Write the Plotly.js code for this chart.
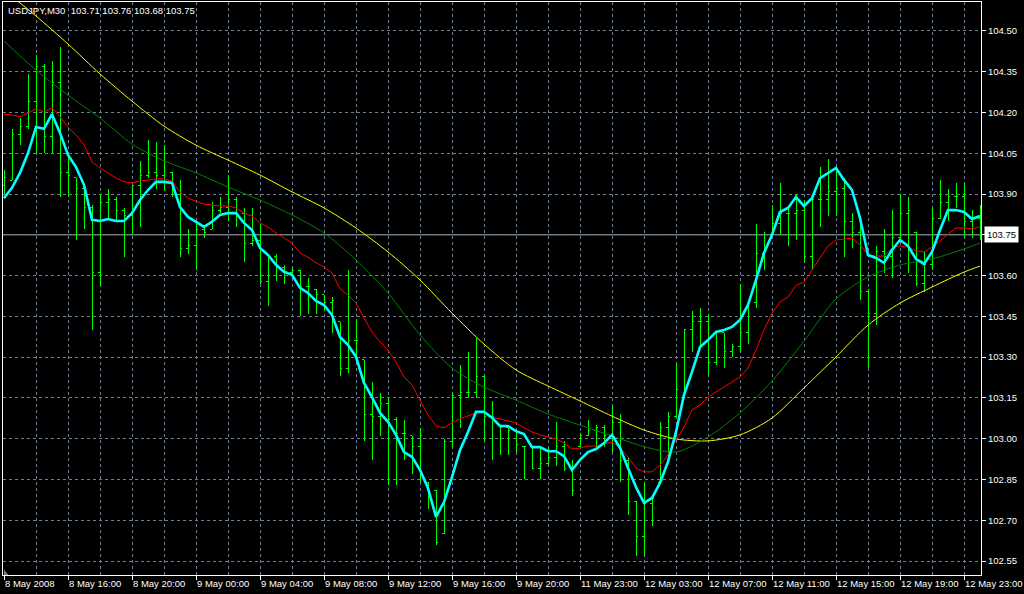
<!DOCTYPE html>
<html>
<head>
<meta charset="utf-8">
<script src="https://cdn.plot.ly/plotly-3.0.1.min.js"></script>
<style>
  html, body { margin: 0; padding: 0; background: #000; }
  #chart { width: 1024px; height: 594px; }
  #chart .ohlclayer path { shape-rendering: crispEdges; }
</style>
</head>
<body>
<div id="chart"></div>
<script>
// ---- data (USDJPY, M30) ----
const symbolTitle = "USDJPY,M30";
const headerQuote = [103.71, 103.76, 103.68, 103.75];

const timeLabels = ["8 May 2008","8 May 16:00","8 May 20:00","9 May 00:00","9 May 04:00",
  "9 May 08:00","9 May 12:00","9 May 16:00","9 May 20:00","11 May 23:00","12 May 03:00",
  "12 May 07:00","12 May 11:00","12 May 15:00","12 May 19:00","12 May 23:00"];

const priceTicks = [102.55,102.70,102.85,103.00,103.15,103.30,103.45,103.60,103.75,103.90,104.05,104.20,104.35,104.50];

const openPrices = [103.93,103.95,104.12,104.15,104.24,104.37,104.11,104.31,103.98,103.96,
103.92,103.85,103.61,103.87,103.88,103.84,103.82,103.93,103.97,103.98,
103.97,103.98,103.90,103.70,103.71,103.77,103.77,103.84,103.85,103.88,
103.83,103.72,103.73,103.58,103.67,103.63,103.61,103.62,103.56,103.55,
103.53,103.50,103.43,103.26,103.36,103.29,103.09,103.08,103.13,103.07,
103.02,103.01,102.97,102.84,102.81,102.65,102.99,103.16,103.17,103.17,
103.23,103.08,103.05,103.04,103.03,102.97,102.97,102.89,102.91,102.93,
102.97,102.89,102.97,103.01,103.03,103.04,103.01,103.06,102.92,102.77,
102.64,102.76,102.84,103.04,103.08,103.15,103.40,103.43,103.43,103.28,
103.39,103.32,103.34,103.39,103.50,103.68,103.75,103.79,103.83,103.83,
103.84,103.67,103.88,103.88,103.91,103.92,103.80,103.76,103.54,103.46,
103.69,103.67,103.74,103.83,103.76,103.57,103.64,103.81,103.87,103.89,
103.89,103.80,103.81];

const highPrices = [103.99,104.14,104.18,104.34,104.41,104.38,104.39,104.44,104.04,103.96,
103.93,103.86,103.90,103.92,103.89,103.85,103.93,104.02,104.10,104.09,
104.08,103.98,103.95,103.77,103.79,103.78,103.87,103.89,103.97,103.89,
103.85,103.85,103.79,103.68,103.68,103.64,103.63,103.62,103.59,103.55,
103.53,103.52,103.43,103.62,103.44,103.29,103.21,103.17,103.15,103.08,
103.07,103.01,103.04,102.84,102.81,103.00,103.17,103.27,103.32,103.37,
103.23,103.14,103.05,103.04,103.03,102.97,102.97,102.97,102.97,103.06,
102.99,102.92,103.02,103.07,103.05,103.05,103.12,103.09,102.93,102.77,
102.84,102.79,103.06,103.10,103.28,103.40,103.47,103.48,103.46,103.39,
103.39,103.35,103.57,103.51,103.79,103.76,103.86,103.94,103.85,103.90,
103.88,103.89,104.00,104.03,104.00,103.96,103.83,103.82,103.55,103.71,
103.77,103.84,103.90,103.89,103.76,103.69,103.85,103.95,103.92,103.94,
103.94,103.84,103.86];

const lowPrices = [103.90,103.95,104.08,104.14,104.05,104.05,104.05,103.89,103.89,103.73,
103.77,103.40,103.56,103.81,103.80,103.67,103.75,103.78,103.96,103.92,
103.91,103.89,103.67,103.68,103.62,103.74,103.77,103.83,103.80,103.78,
103.65,103.71,103.57,103.49,103.58,103.57,103.61,103.45,103.46,103.46,
103.47,103.39,103.23,103.24,103.29,102.99,102.92,103.01,102.83,102.83,
102.92,102.87,102.84,102.74,102.61,102.65,102.97,103.04,103.15,103.15,
102.99,102.92,102.94,102.94,102.95,102.85,102.89,102.85,102.90,102.90,
102.88,102.79,102.97,103.01,102.97,102.97,102.95,102.84,102.72,102.57,
102.57,102.68,102.84,102.93,103.08,103.15,103.32,103.33,103.23,103.27,
103.26,103.30,103.32,103.35,103.48,103.62,103.75,103.75,103.71,103.73,
103.65,103.62,103.78,103.82,103.82,103.67,103.70,103.51,103.26,103.42,
103.61,103.59,103.73,103.61,103.56,103.54,103.62,103.81,103.80,103.85,
103.74,103.74,103.73];

const closePrices = [103.96,104.12,104.15,104.24,104.37,104.11,104.31,103.98,103.97,103.92,
103.85,103.61,103.87,103.88,103.84,103.82,103.93,103.97,103.98,103.97,
104.02,103.90,103.70,103.71,103.77,103.76,103.84,103.85,103.88,103.83,
103.72,103.73,103.58,103.67,103.63,103.61,103.62,103.56,103.56,103.53,
103.50,103.51,103.26,103.36,103.36,103.09,103.08,103.13,103.07,103.02,
103.02,102.97,103.01,102.81,102.62,102.99,103.16,103.17,103.17,103.23,
103.08,103.08,103.04,103.03,102.98,102.97,102.89,102.91,102.93,102.97,
102.89,102.81,103.01,103.03,103.04,103.01,103.06,102.92,102.77,102.64,
102.76,102.78,103.04,103.08,103.18,103.40,103.43,103.43,103.28,103.39,
103.32,103.34,103.39,103.50,103.68,103.69,103.79,103.83,103.83,103.84,
103.67,103.88,103.88,103.91,103.92,103.80,103.76,103.54,103.46,103.69,
103.67,103.74,103.83,103.84,103.57,103.64,103.81,103.87,103.89,103.89,
103.80,103.81,103.75];

// cyan fast moving average (one value per bar)
const fastMA = [103.885,103.923,103.978,104.051,104.147,104.140,104.194,104.125,104.044,103.999,
103.934,103.805,103.801,103.808,103.801,103.801,103.830,103.878,103.915,103.945,
103.945,103.941,103.852,103.816,103.798,103.779,103.798,103.823,103.830,103.830,
103.794,103.768,103.702,103.676,103.640,103.614,103.603,103.555,103.536,103.507,
103.492,103.455,103.374,103.345,103.301,103.205,103.153,103.095,103.062,103.014,
102.951,102.933,102.885,102.818,102.712,102.767,102.859,102.958,103.025,103.099,
103.099,103.077,103.047,103.047,103.028,103.017,102.969,102.969,102.954,102.954,
102.936,102.885,102.922,102.951,102.962,102.984,103.014,102.966,102.892,102.822,
102.764,102.782,102.837,102.915,103.025,103.161,103.246,103.337,103.363,103.393,
103.400,103.411,103.437,103.492,103.584,103.683,103.750,103.834,103.849,103.889,
103.856,103.885,103.959,103.978,103.996,103.952,103.915,103.812,103.676,103.665,
103.647,103.694,103.731,103.709,103.661,103.643,103.687,103.768,103.841,103.841,
103.834,103.808,103.819];

// red moving average (one value per bar)
const redMA = [104.194,104.191,104.184,104.198,104.213,104.202,104.217,104.184,104.147,104.118,
104.081,104.018,103.996,103.978,103.959,103.945,103.941,103.948,103.952,103.956,
103.956,103.948,103.908,103.885,103.874,103.863,103.860,103.856,103.856,103.849,
103.830,103.819,103.794,103.779,103.757,103.738,103.720,103.683,103.668,103.647,
103.632,103.610,103.551,103.529,103.499,103.444,103.393,103.356,103.326,103.282,
103.227,103.198,103.142,103.087,103.047,103.040,103.058,103.073,103.084,103.095,
103.095,103.080,103.073,103.066,103.058,103.040,103.025,103.014,103.006,102.999,
102.984,102.962,102.966,102.973,102.973,102.980,102.988,102.966,102.933,102.892,
102.878,102.878,102.903,102.940,102.995,103.043,103.106,103.124,103.153,103.172,
103.190,103.209,103.227,103.260,103.326,103.400,103.462,103.503,103.521,103.565,
103.576,103.621,103.665,103.709,103.731,103.735,103.738,103.713,103.676,103.672,
103.672,103.702,103.709,103.705,103.691,103.687,103.705,103.727,103.753,103.775,
103.775,103.772,103.779];

// slow averages, read every 4 bars
const slowMABars = [0,4,8,12,16,20,24,28,32,36,40,44,48,52,56,60,64,68,72,76,80,84,88,92,96,100,104,108,112,116,120,122];
const greenMA = [104.463,104.356,104.264,104.180,104.084,104.022,103.978,103.926,103.878,103.823,
103.757,103.658,103.536,103.382,103.260,103.190,103.142,103.091,103.050,103.010,
102.971,102.951,103.006,103.095,103.212,103.359,103.514,103.595,103.639,103.661,
103.698,103.720];
const yellowMA = [104.650,104.555,104.452,104.342,104.242,104.150,104.080,104.025,103.970,103.908,
103.849,103.775,103.687,103.584,103.462,103.348,103.253,103.194,103.139,103.083,
103.032,102.999,102.992,103.014,103.076,103.187,103.301,103.418,103.499,103.558,
103.613,103.635];

// ---- chart ----
const FONT = "Liberation Sans, Arial, sans-serif";
const FSIZE = 9.5;
const GRID = "#6f7f91";
const barIdx = closePrices.map((_, i) => i);
const labelIdx = timeLabels.map((_, i) => i * 8);
const lastClose = closePrices[closePrices.length - 1];

const lineTrace = (x, y, color, width, shape) => ({
  type: "scatter", mode: "lines", x: x, y: y,
  line: { color: color, width: width, shape: shape || "linear", smoothing: 0.8 },
  hoverinfo: "skip", showlegend: false
});

const traces = [
  {
    type: "ohlc", x: barIdx,
    open: openPrices, high: highPrices, low: lowPrices, close: closePrices,
    increasing: { line: { color: "#00ff00", width: 1 } },
    decreasing: { line: { color: "#00ff00", width: 1 } },
    tickwidth: 0.3, hoverinfo: "skip", showlegend: false
  },
  lineTrace(slowMABars, yellowMA, "#ffff00", 1, "spline"),
  lineTrace(slowMABars, greenMA, "#008000", 1, "spline"),
  lineTrace(barIdx, redMA, "#ff0000", 1),
  lineTrace(barIdx, fastMA, "#00ffff", 2.6)
];

const nb = "\u00a0";
const titleText = symbolTitle + nb + nb + headerQuote.map(v => v.toFixed(2)).join(nb);

const layout = {
  width: 1024, height: 594,
  paper_bgcolor: "#000000", plot_bgcolor: "#000000",
  margin: { l: 3, r: 43, t: 2, b: 19, pad: 0 },
  showlegend: false, hovermode: false,
  title: {
    text: titleText, xref: "container", yref: "container",
    x: 8 / 1024, xanchor: "left", y: 1 - 11 / 594, yanchor: "middle",
    font: { family: FONT, size: FSIZE, color: "#ffffff" }
  },
  xaxis: {
    range: [-0.125, 122.125],
    tickmode: "array", tickvals: labelIdx, ticktext: timeLabels,
    ticks: "outside", ticklen: 4, tickcolor: "#ffffff", tickwidth: 1,
    ticklabelposition: "outside right", tickangle: 0,
    tickfont: { family: FONT, size: FSIZE, color: "#ffffff" },
    showgrid: true, gridcolor: GRID, gridwidth: 1, griddash: "3px,3px",
    minor: { tick0: 0, dtick: 4, showgrid: true, gridcolor: GRID, gridwidth: 1, griddash: "3px,3px", ticks: "" },
    showline: true, linecolor: "#ffffff", linewidth: 1, mirror: true,
    zeroline: false, rangeslider: { visible: false }, fixedrange: true, automargin: false
  },
  yaxis: {
    side: "right",
    range: [102.4986, 104.6066],
    tickmode: "array", tickvals: priceTicks, ticktext: priceTicks.map(v => v.toFixed(2)),
    ticks: "outside", ticklen: 4, tickcolor: "#ffffff", tickwidth: 1,
    tickfont: { family: FONT, size: FSIZE, color: "#ffffff" },
    showgrid: true, gridcolor: GRID, gridwidth: 1, griddash: "3px,3px",
    showline: true, linecolor: "#ffffff", linewidth: 1, mirror: true,
    zeroline: false, fixedrange: true, automargin: false
  },
  shapes: [
    { type: "line", xref: "paper", x0: 0, x1: 1, yref: "y", y0: lastClose, y1: lastClose,
      line: { color: "#a9a9a9", width: 1 }, layer: "below" },
    { type: "path", xref: "paper", yref: "paper",
      path: "M 0.001,0.0095 L 0.001,0 L 0.0055,0 Z",
      fillcolor: "#708090", line: { width: 0 } }
  ],
  annotations: [
    { xref: "paper", x: 1, xanchor: "left", xshift: 3, yref: "y", y: lastClose, yanchor: "middle",
      text: lastClose.toFixed(2), showarrow: false, bgcolor: "#ffffff", borderpad: 2,
      font: { family: FONT, size: FSIZE, color: "#000000" } }
  ]
};

Plotly.newPlot("chart", traces, layout, { displayModeBar: false, staticPlot: true });
</script>
</body>
</html>
